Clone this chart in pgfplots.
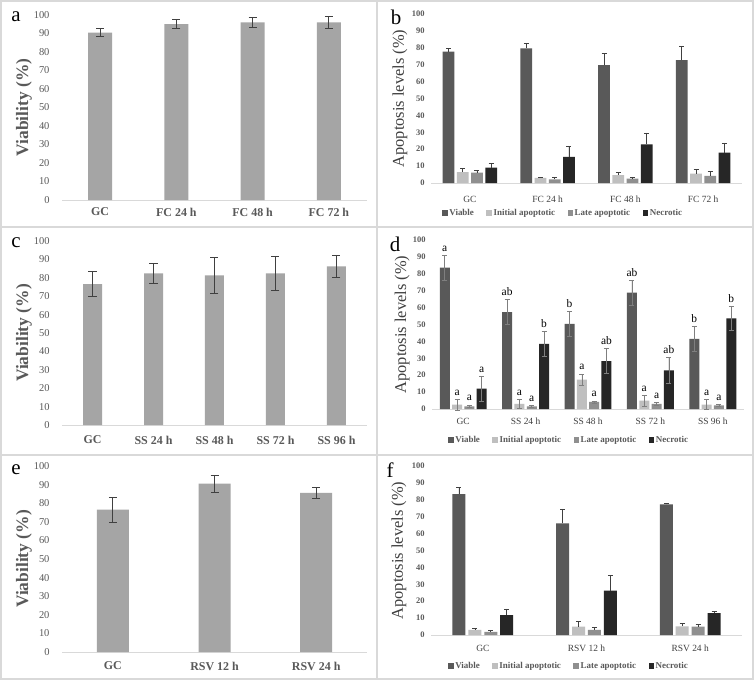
\documentclass[border=0pt]{standalone}
\usepackage{fontspec}
\setmainfont{Liberation Serif}
\usepackage{pgfplots}
\usepackage{pgfplotstable}
\pgfplotsset{compat=1.18}
\definecolor{barg}{HTML}{A5A5A5}
\definecolor{cV}{HTML}{595959}
\definecolor{cIA}{HTML}{BFBFBF}
\definecolor{cLA}{HTML}{8F8F8F}
\definecolor{cN}{HTML}{262626}
\definecolor{tickg}{HTML}{595959}
\definecolor{lineg}{HTML}{D9D9D9}
\definecolor{errg}{HTML}{404040}
\definecolor{errd}{HTML}{7F7F7F}

\pgfplotstableread{
x y e
0.5 90.5 2.2
1.5 95.1 2.5
2.5 96.0 2.7
3.5 96.0 3.3
}\tabA
\pgfplotstableread{
x y e
0.5 76.6 6.8
1.5 82.4 5.5
2.5 81.3 9.9
3.5 82.4 9.0
4.5 86.2 6.2
}\tabC
\pgfplotstableread{
x y e
0.5 76.5 6.6
1.5 90.5 4.7
2.5 85.5 2.8
}\tabE
\pgfplotstableread{
x V Ve IA IAe LA LAe N Ne
0.5 77.7 2.0 6.5 2.0 6.1 1.4 9.1 2.4
1.5 79.6 3.0 3.0 0.6 2.2 1.4 15.4 6.5
2.5 69.8 6.9 4.7 1.4 2.6 1.0 22.9 6.7
3.5 72.7 7.9 5.5 2.6 4.2 2.9 18.0 5.7
}\tabB
\pgfplotstableread{
x V Ve IA IAe LA LAe N Ne lV lIA lLA lN
0.5 83.6 7.5 2.6 3.3 1.6 0.8 12.1 7.3 a a a a
1.5 57.3 7.5 3.0 2.9 1.6 0.5 38.5 7.2 ab a a b
2.5 50.4 7.5 17.4 3.4 4.2 0.6 28.3 7.3 b a a ab
3.5 68.8 7.5 4.9 3.2 3.0 0.7 22.9 7.7 ab a a ab
4.5 41.5 7.5 2.6 2.9 2.2 0.7 53.6 7.3 b a a b
}\tabD
\pgfplotstableread{
x V Ve IA IAe LA LAe N Ne
0.5 83.4 3.8 3.0 0.9 1.8 1.0 11.8 3.6
1.5 66.1 8.5 4.9 3.0 3.0 1.5 26.2 9.3
2.5 77.3 0.6 5.1 1.8 4.9 1.4 13.0 1.2
}\tabF

\pgfplotsset{
  common/.style={scale only axis, ymin=0, ymax=100, ytick={0,10,...,100},
    axis x line*=bottom, axis y line*=left,
    x axis line style={-, draw=lineg, line width=1bp},
    y axis line style={draw=none}, major tick length=0pt,
    /pgf/number format/assume math mode=true,
    xtick={0.5,1.5,2.5,3.5,4.5}, clip=false, ybar},
  viab/.style={common,
    yticklabel style={font=\fontsize{10.5}{12}\selectfont, text=tickg, xshift=-9bp},
    xticklabel style={font=\bfseries\fontsize{12}{14}\selectfont, text=tickg},
    ylabel={Viability (\%)},
    ylabel style={font=\bfseries\fontsize{17.5}{20}\selectfont, text=tickg, anchor=center}},
  apop/.style={common,
    yticklabel style={font=\bfseries\fontsize{8.5}{10}\selectfont, text=tickg, xshift=-3bp},
    xticklabel style={font=\fontsize{9.5}{11}\selectfont, text=errg},
    ylabel={Apoptosis levels (\%)},
    ylabel style={font=\fontsize{16.5}{18}\selectfont, text=errg, anchor=center},
    legend columns=4,
    legend style={draw=none, fill=none, font=\bfseries\fontsize{9}{10}\selectfont, text=tickg,
      anchor=west, /tikz/every even column/.append style={column sep=11bp},
      nodes={inner xsep=1.5bp}},
    legend image code/.code={\fill[##1] (0bp,-2.8bp) rectangle (5.6bp,2.8bp);}},
  ser/.style n args={3}{fill=#1, draw=none, bar width=#2, bar shift=#3},
  errV/.style={error bars/.cd, y dir=both, y explicit,
    error bar style={draw=errg, line width=0.8bp},
    error mark options={rotate=90, mark size=4bp, draw=errg, line width=0.8bp}},
  errP/.style={error bars/.cd, y dir=plus, y explicit,
    error bar style={draw=errg, line width=0.7bp},
    error mark options={rotate=90, mark size=2.5bp, draw=errg, line width=0.7bp}},
  errD/.style={error bars/.cd, y dir=both, y explicit,
    error bar style={draw=errd, line width=0.7bp},
    error mark options={rotate=90, mark size=2.5bp, draw=errd, line width=0.7bp}},
  lett/.style n args={2}{draw=none, fill=none, bar width=#1, bar shift=#2, forget plot,
    nodes near coords={\pgfplotspointmeta}, point meta=explicit symbolic,
    nodes near coords style={font=\fontsize{11.5}{13}\selectfont, text=black, anchor=base, yshift=4bp, inner sep=0pt}},
}

\begin{document}
\begin{tikzpicture}
\path[use as bounding box, fill=white] (0,0) rectangle (754bp,-680bp);
\draw[lineg, line width=1.5bp] (1bp,-1bp) rectangle (753bp,-679bp);
\draw[lineg, line width=1.5bp] (377bp,-1bp) -- (377bp,-679bp);
\draw[lineg, line width=1.5bp] (1bp,-227bp) -- (753bp,-227bp) (1bp,-455bp) -- (753bp,-455bp);

\node[font=\fontsize{21}{24}\selectfont] at (16bp,-17bp) {a};
\node[font=\fontsize{21}{24}\selectfont] at (396bp,-17bp) {b};
\node[font=\fontsize{21}{24}\selectfont] at (16bp,-243bp) {c};
\node[font=\fontsize{21}{24}\selectfont] at (395bp,-244bp) {d};
\node[font=\fontsize{21}{24}\selectfont] at (16bp,-470bp) {e};
\node[font=\fontsize{21}{24}\selectfont] at (390bp,-470bp) {f};

% panel a
\begin{axis}[viab, at={(62bp,-200bp)}, anchor=south west, width=305bp, height=185bp,
  xmin=0, xmax=4, xticklabels={GC, FC 24 h, FC 48 h, FC 72 h},
  xticklabel style={yshift=-4.5bp},
  ylabel style={at={(axis description cs:-0.125,0.5)}}]
\addplot[ser={barg}{24bp}{0bp}, errV] table[x=x, y=y, y error=e] \tabA;
\end{axis}

% panel b
\begin{axis}[apop, at={(431bp,-183bp)}, anchor=south west, width=311bp, height=169bp,
  xmin=0, xmax=4, xticklabels={GC, FC 24 h, FC 48 h, FC 72 h},
  xticklabel style={yshift=-9.5bp},
  ylabel style={at={(axis description cs:-0.1,0.5)}},
  legend style={at={(axis description cs:0.026,0)}, yshift=-30bp}]
\addplot[ser={cV}{11.7bp}{-21.3bp}, errP] table[x=x, y=V, y error=Ve] \tabB;
\addplot[ser={cIA}{11.7bp}{-7.1bp}, errP] table[x=x, y=IA, y error=IAe] \tabB;
\addplot[ser={cLA}{11.7bp}{7.1bp}, errP] table[x=x, y=LA, y error=LAe] \tabB;
\addplot[ser={cN}{11.7bp}{21.3bp}, errP] table[x=x, y=N, y error=Ne] \tabB;
\legend{Viable, Initial apoptotic, Late apoptotic, Necrotic}
\end{axis}

% panel c
\begin{axis}[viab, at={(62bp,-425bp)}, anchor=south west, width=305bp, height=184bp,
  xmin=0, xmax=5, xticklabels={GC, SS 24 h, SS 48 h, SS 72 h, SS 96 h},
  xticklabel style={yshift=-7.5bp},
  ylabel style={at={(axis description cs:-0.125,0.5)}}]
\addplot[ser={barg}{19bp}{0bp}, errV] table[x=x, y=y, y error=e] \tabC;
\end{axis}

% panel d
\begin{axis}[apop, at={(432bp,-409bp)}, anchor=south west, width=312bp, height=169bp,
  xmin=0, xmax=5, xticklabels={GC, SS 24 h, SS 48 h, SS 72 h, SS 96 h},
  xticklabel style={yshift=-5.5bp},
  ylabel style={at={(axis description cs:-0.096,0.5)}},
  legend style={at={(axis description cs:0.042,0)}, yshift=-31bp}]
\addplot[ser={cV}{10bp}{-18.45bp}, errD] table[x=x, y=V, y error=Ve] \tabD;
\addplot[ser={cIA}{10bp}{-6.15bp}, errD] table[x=x, y=IA, y error=IAe] \tabD;
\addplot[ser={cLA}{10bp}{6.15bp}, errD] table[x=x, y=LA, y error=LAe] \tabD;
\addplot[ser={cN}{10bp}{18.45bp}, errD] table[x=x, y=N, y error=Ne] \tabD;
\legend{Viable, Initial apoptotic, Late apoptotic, Necrotic}
\addplot[lett={10bp}{-18.45bp}] table[x=x, y expr=\thisrow{V}+\thisrow{Ve}, meta=lV] \tabD;
\addplot[lett={10bp}{-6.15bp}] table[x=x, y expr=\thisrow{IA}+\thisrow{IAe}, meta=lIA] \tabD;
\addplot[lett={10bp}{6.15bp}] table[x=x, y expr=\thisrow{LA}+\thisrow{LAe}, meta=lLA] \tabD;
\addplot[lett={10bp}{18.45bp}] table[x=x, y expr=\thisrow{N}+\thisrow{Ne}, meta=lN] \tabD;
\end{axis}

% panel e
\begin{axis}[viab, at={(62bp,-652bp)}, anchor=south west, width=305bp, height=186bp,
  xmin=0, xmax=3, xticklabels={GC, RSV 12 h, RSV 24 h},
  xticklabel style={yshift=-6.5bp},
  ylabel style={at={(axis description cs:-0.125,0.5)}}]
\addplot[ser={barg}{32bp}{0bp}, errV] table[x=x, y=y, y error=e] \tabE;
\end{axis}

% panel f
\begin{axis}[apop, at={(431bp,-635bp)}, anchor=south west, width=311bp, height=169bp,
  xmin=0, xmax=3, xticklabels={GC, RSV 12 h, RSV 24 h},
  xticklabel style={yshift=-6.5bp},
  ylabel style={at={(axis description cs:-0.103,0.5)}},
  legend style={at={(axis description cs:0.045,0)}, yshift=-31bp}]
\addplot[ser={cV}{13bp}{-23.85bp}, errP] table[x=x, y=V, y error=Ve] \tabF;
\addplot[ser={cIA}{13bp}{-7.95bp}, errP] table[x=x, y=IA, y error=IAe] \tabF;
\addplot[ser={cLA}{13bp}{7.95bp}, errP] table[x=x, y=LA, y error=LAe] \tabF;
\addplot[ser={cN}{13bp}{23.85bp}, errP] table[x=x, y=N, y error=Ne] \tabF;
\legend{Viable, Initial apoptotic, Late apoptotic, Necrotic}
\end{axis}
\end{tikzpicture}
\end{document}
